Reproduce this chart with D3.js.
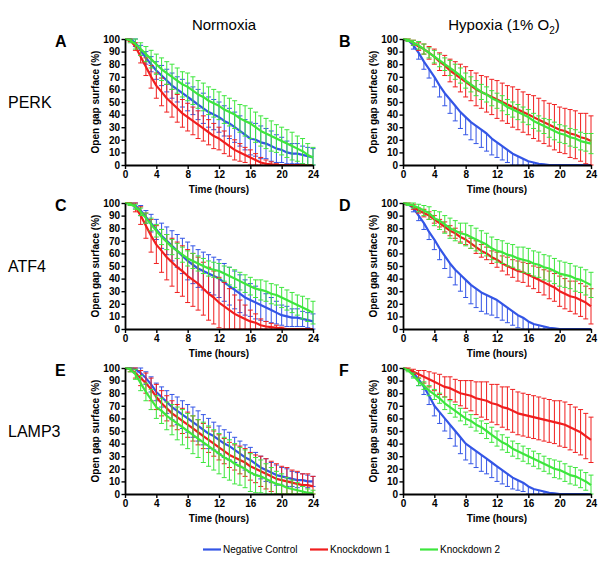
<!DOCTYPE html>
<html><head><meta charset="utf-8">
<script src="https://cdn.jsdelivr.net/npm/d3@7/dist/d3.min.js"></script>
<style>
body{margin:0;background:#fff}
text{font-family:"Liberation Sans",Arial,sans-serif}
</style>
</head><body>
<svg id="chart" width="600" height="565"></svg>
<script>
// ---------- data ----------
const timesH = [0,0.67,1.33,2,2.67,3.33,4,4.67,5.33,6,6.67,7.33,8,8.67,9.33,10,10.67,11.33,12,12.67,13.33,14,14.67,15.33,16,16.67,17.33,18,18.67,19.33,20,20.67,21.33,22,22.67,23.33,24];
const xTicks = [0,4,8,12,16,20,24];
const yTicks = [0,10,20,30,40,50,60,70,80,90,100];
const seriesNames = ["Negative Control","Knockdown 1","Knockdown 2"];
const seriesColors = ["#3355e6","#f01e1e","#3de63d"];
const panelLetters = ["A","B","C","D","E","F"];
const rowLabels = ["PERK","ATF4","LAMP3"];
const xTitle = "Time (hours)";
const yTitle = "Open gap surface (%)";

// Panel A: Normoxia / PERK
const A_blue_m = [100,100,97,91,85,80,75,71,67,63,60,57,54,51,48,45,42,40,38,35,33,30,27,24,21,20,18,17,15,13,12,10,9,9,8,7,6];
const A_blue_s = [0,1,3,4,5,6,7,8,9,10,10,11,11,11,12,12,12,12,12,12,12,12,12,12,13,13,13,12,12,11,10,9,8,8,7,7,7];
const A_red_m = [100,99,94,86,78,70,63,58,53,49,45,41,38,35,32,29,26,23,21,18,15,12,10,8,6,4,2,1,0.5,0,0,0,0,0,0,0,0];
const A_red_s = [0,1,3,5,7,9,10,11,11,11,11,11,11,11,11,10,10,10,9,9,8,8,7,6,6,5,4,3,2,1,0,0,0,0,0,0,0];
const A_green_m = [100,99,96,92,88,84,80,76,73,70,67,64,62,59,56,54,51,49,47,44,42,40,37,35,33,30,27,25,23,21,19,17,15,13,11,8,6];
const A_green_s = [0,2,4,5,6,7,8,9,9,10,10,10,11,11,11,11,11,11,11,11,11,11,11,12,12,12,12,12,12,11,11,11,11,10,10,9,8];
// Panel B: Hypoxia / PERK
const B_blue_m = [100,99,95,89,82,76,70,63,57,52,47,42,38,34,31,28,25,21,18,15,12,9,7,5,3,2,1,0.5,0,0,0,0,0,0,0,0,0];
const B_blue_s = [0,1,3,5,6,7,8,9,10,11,12,13,14,14,14,14,14,13,12,11,10,9,7,5,4,3,2,1,0,0,0,0,0,0,0,0,0];
const B_red_m = [100,99,97,94,92,89,86,82,79,75,72,69,66,63,60,58,56,54,52,50,48,46,44,42,40,38,36,34,32,30,28,27,25,24,22,21,19];
const B_red_s = [0,1,2,3,4,5,6,7,8,9,10,11,12,12,13,13,14,14,15,15,15,16,16,16,16,17,17,17,17,18,18,18,19,19,19,20,20];
const B_green_m = [100,99,97,95,92,89,86,83,80,77,74,71,67,64,61,58,56,53,51,49,46,44,42,40,38,35,33,31,29,27,25,24,22,21,19,18,17];
const B_green_s = [0,1,2,3,4,4,5,5,5,6,6,6,6,6,6,6,6,6,6,6,6,6,6,6,6,6,6,6,7,7,7,7,7,7,7,7,8];
// Panel C: Normoxia / ATF4
const C_blue_m = [100,100,98,94,89,84,79,74,70,66,62,58,54,51,48,46,44,42,40,37,34,31,28,25,23,21,19,17,15,13,11,10,9,9,8,7,6];
const C_blue_s = [0,1,2,4,5,7,8,10,11,12,13,14,15,15,15,15,15,15,15,15,15,15,15,14,13,13,12,11,10,9,8,8,7,7,6,6,6];
const C_red_m = [100,100,97,90,82,74,67,62,57,53,49,46,42,39,36,32,28,25,21,18,15,12,10,8,6,5,3,2,1.5,1,0.5,0,0,0,0,0,0];
const C_red_s = [0,2,4,7,10,13,15,17,18,19,20,20,21,21,21,21,21,21,20,19,17,15,13,11,9,7,5,4,3,2,1,0,0,0,0,0,0];
const C_green_m = [100,99,97,93,88,83,78,73,69,65,62,59,56,54,52,50,48,47,46,44,42,40,38,36,34,32,31,30,28,27,25,23,21,19,17,15,13];
const C_green_s = [0,1,2,3,4,5,5,6,6,6,6,6,6,6,6,6,6,6,6,6,7,7,7,7,7,7,8,8,8,8,8,8,8,8,9,9,9];
// Panel D: Hypoxia / ATF4
const D_blue_m = [100,99,96,90,84,77,71,64,58,52,47,43,39,35,32,29,27,25,23,20,17,14,11,9,6,4,3,2,1,0.5,0,0,0,0,0,0,0];
const D_blue_s = [0,1,3,4,5,6,8,9,10,11,12,13,14,15,15,15,15,14,14,13,12,11,10,9,7,5,4,3,2,1,0,0,0,0,0,0,0];
const D_red_m = [100,99,97,94,92,90,87,84,81,78,76,73,71,68,65,62,60,57,55,52,50,48,46,45,43,41,39,37,35,33,30,28,26,25,23,21,18];
const D_red_s = [0,1,2,2,3,3,3,3,4,4,4,4,4,4,5,5,5,5,6,6,7,7,8,8,9,9,10,10,11,11,12,12,12,13,13,13,14];
const D_green_m = [100,99,98,96,94,92,88,86,83,80,78,76,75,73,71,69,67,64,62,61,59,58,56,55,54,52,51,49,48,46,44,43,42,40,39,37,35];
const D_green_s = [0,1,2,3,4,5,6,7,7,8,8,8,9,9,9,9,9,9,9,9,9,9,9,10,10,10,10,10,10,10,10,10,10,10,10,10,10];
// Panel E: Normoxia / LAMP3
const E_blue_m = [100,100,99,96,92,87,81,77,73,69,66,63,60,57,54,51,48,46,43,40,38,35,32,29,27,24,21,19,17,15,14,13,12,11,11,10,10];
const E_blue_s = [0,1,3,4,5,6,7,8,9,10,11,11,11,12,12,12,12,11,11,11,11,10,10,10,10,9,9,9,8,8,7,7,6,6,5,5,4];
const E_red_m = [100,99,96,92,88,83,77,72,68,64,61,58,55,52,49,46,43,40,37,34,31,29,27,25,22,20,18,16,14,12,11,10,9,8,7,7,6];
const E_red_s = [0,2,4,6,8,9,10,10,10,10,10,10,10,10,10,10,10,10,10,10,10,10,11,11,11,11,12,12,12,12,11,11,10,10,9,9,8];
const E_green_m = [100,99,95,88,81,75,69,66,62,59,56,53,50,47,44,41,38,35,32,29,27,24,22,20,17,15,14,12,10,8,7,5,4,3,2,1,1];
const E_green_s = [0,2,4,6,7,8,9,10,11,12,13,14,14,15,15,16,16,16,16,16,16,16,15,15,15,14,13,12,11,10,9,8,7,6,4,3,2];
// Panel F: Hypoxia / LAMP3
const F_blue_m = [100,99,96,91,85,78,70,65,60,55,50,45,40,37,34,31,28,25,22,19,16,13,11,9,6,4,3,2,1,0.5,0,0,0,0,0,0,0];
const F_blue_s = [0,1,3,5,6,7,8,9,10,11,12,13,13,13,13,13,12,12,12,11,10,9,8,7,6,5,4,3,2,1,0,0,0,0,0,0,0];
const F_red_m = [100,99,97,95,93,91,89,87,85,84,82,80,79,78,76,75,74,72,71,69,68,66,64,63,62,61,60,59,58,57,56,55,53,51,49,46,43];
const F_red_s = [0,1,2,3,5,6,7,8,8,9,9,10,11,12,13,14,15,15,16,16,17,17,17,17,17,17,17,17,17,17,18,18,18,18,18,18,18];
const F_green_m = [100,98,94,89,86,82,79,76,72,69,66,63,60,58,55,53,50,47,44,41,39,36,34,32,30,28,26,24,22,20,19,17,15,14,12,10,7];
const F_green_s = [0,1,2,3,3,4,4,4,5,5,5,5,5,5,5,5,6,6,6,6,6,6,6,6,6,6,6,6,6,7,7,7,7,7,7,7,8];

// ---------- layout ----------
const colX = [[125,313],[403,591]];
const rowY = [[39,165],[203,329],[368,494]];
const letterX = [55,339];

const panels = [
  {row:0,col:0,series:[[A_blue_m,A_blue_s],[A_red_m,A_red_s],[A_green_m,A_green_s]]},
  {row:0,col:1,series:[[B_blue_m,B_blue_s],[B_red_m,B_red_s],[B_green_m,B_green_s]]},
  {row:1,col:0,series:[[C_blue_m,C_blue_s],[C_red_m,C_red_s],[C_green_m,C_green_s]]},
  {row:1,col:1,series:[[D_blue_m,D_blue_s],[D_red_m,D_red_s],[D_green_m,D_green_s]]},
  {row:2,col:0,series:[[E_blue_m,E_blue_s],[E_red_m,E_red_s],[E_green_m,E_green_s]]},
  {row:2,col:1,series:[[F_blue_m,F_blue_s],[F_red_m,F_red_s],[F_green_m,F_green_s]]}
];
// error bar direction per column (normoxia: both; hypoxia: control below only)
const barDir = [["both","both","both"],["down","both","both"]];

const svg = d3.select("#chart");
svg.append("rect").attr("width",600).attr("height",565).attr("fill","#fff");

panels.forEach((p,pi) => {
  const x = d3.scaleLinear().domain([0,24]).range(colX[p.col]);
  const y = d3.scaleLinear().domain([0,100]).range([rowY[p.row][1], rowY[p.row][0]]);
  const g = svg.append("g");
  const cap = 2.5;

  p.series.forEach(([mean, sd], si) => {
    const color = seriesColors[si];
    const dir = barDir[p.col][si];
    const eb = g.append("g").attr("stroke", color).attr("stroke-width", 1).attr("fill","none");
    timesH.forEach((t,k) => {
      const m = mean[k], s = sd[k];
      if (!s) return;
      const xx = x(t);
      const ends = [];
      if (dir !== "down") ends.push(Math.min(100, m + s));
      if (dir !== "up") ends.push(Math.max(0, m - s));
      ends.forEach(e => {
        eb.append("line").attr("x1",xx).attr("x2",xx).attr("y1",y(m)).attr("y2",y(e));
        eb.append("line").attr("x1",xx-cap).attr("x2",xx+cap).attr("y1",y(e)).attr("y2",y(e));
      });
    });
    g.append("path").datum(mean)
      .attr("fill","none").attr("stroke",color).attr("stroke-width",2.2)
      .attr("stroke-linejoin","round")
      .attr("d", d3.line().x((d,k)=>x(timesH[k])).y(d=>y(d)));
  });

  // axes
  const xa = g.append("g").attr("transform",`translate(0,${y(0)})`)
    .call(d3.axisBottom(x).tickValues(xTicks).tickSize(4).tickPadding(2).tickSizeOuter(0));
  const ya = g.append("g").attr("transform",`translate(${x(0)},0)`)
    .call(d3.axisLeft(y).tickValues(yTicks).tickSize(3.5).tickPadding(1.5).tickSizeOuter(0));
  [xa,ya].forEach(a => {
    a.select(".domain").attr("stroke","#000").attr("stroke-width",1.8);
    a.selectAll(".tick line").attr("stroke","#000").attr("stroke-width",1.4);
    a.selectAll("text").attr("fill","#000").style("font-size","10px").style("font-weight","bold")
      .style("font-family","'Liberation Sans',Arial,sans-serif");
  });

  const cx = (colX[p.col][0]+colX[p.col][1])/2;
  g.append("text").attr("x",cx).attr("y",y(0)+27.5).attr("text-anchor","middle")
    .style("font-size","10px").style("font-weight","bold").text(xTitle);
  const cy = (rowY[p.row][0]+rowY[p.row][1])/2;
  g.append("text").attr("transform",`translate(${x(0)-26},${cy}) rotate(-90)`)
    .attr("text-anchor","middle").style("font-size","10px").style("font-weight","bold").text(yTitle);

  g.append("text").attr("x",letterX[p.col]).attr("y",rowY[p.row][0]+7.5)
    .style("font-size","16px").style("font-weight","bold").text(panelLetters[pi]);
});

// row labels
rowLabels.forEach((r,i) => {
  const cy = (rowY[i][0]+rowY[i][1])/2;
  svg.append("text").attr("x",8).attr("y",cy+6).style("font-size","16px").text(r);
});

// column titles
svg.append("text").attr("x",224).attr("y",30).attr("text-anchor","middle").style("font-size","15px").text("Normoxia");
const ht = svg.append("text").attr("x",504).attr("y",30).attr("text-anchor","middle").style("font-size","15px");
ht.append("tspan").text("Hypoxia (1% O");
ht.append("tspan").attr("dy",4).style("font-size","10px").text("2");
ht.append("tspan").attr("dy",-4).text(")");

// legend
const legX = [203,310,420];
seriesNames.forEach((n,i) => {
  svg.append("line").attr("x1",legX[i]).attr("x2",legX[i]+18).attr("y1",549.5).attr("y2",549.5)
    .attr("stroke",seriesColors[i]).attr("stroke-width",2.2);
  svg.append("text").attr("x",legX[i]+20).attr("y",553).style("font-size","10px").text(n);
});
</script>
</body></html>
